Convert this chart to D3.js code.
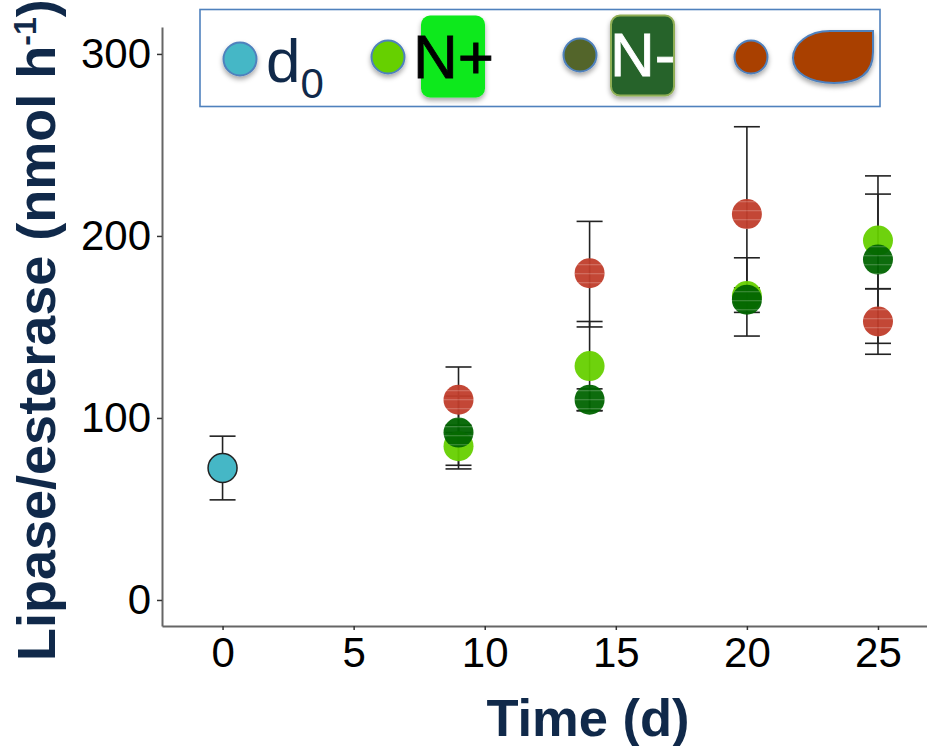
<!DOCTYPE html>
<html><head><meta charset="utf-8">
<script src="https://cdn.jsdelivr.net/npm/d3@7"></script>
<style>html,body{margin:0;padding:0;background:#fff}svg{display:block}text{font-family:"Liberation Sans",Arial,sans-serif}</style>
</head><body><svg id="c" width="927" height="746"></svg>
<script>
const days=[9,14,20,25];
const d0Point={day:0,mean:72.5,low:55,high:90};
const nPlusMean=[84.5,128.5,167,197.5];
const nPlusLow=[74,104,145,171];
const nPlusHigh=[96,153,188,223];
const nMinusMean=[92,110,165,187];
const nMinusLow=[72,104,158,141];
const nMinusHigh=[112,116,171.5,233];
const deficitMean=[110,179.5,212,153];
const deficitLow=[92,150,164,135];
const deficitHigh=[128,208,260,171];
const xTicks=[0,5,10,15,20,25];
const yTicks=[0,100,200,300];
const colors={d0:"#45b7c6",nPlus:"#66d000",nMinus:"#006400",def:"#c03d2b"};

const svg=d3.select("#c");
const x=d3.scaleLinear().domain([-2.31,26.87]).range([162,927]);
const y=d3.scaleLinear().domain([-14.3,314.8]).range([626,27]);
const defs=svg.append("defs");
const sh=defs.append("filter").attr("id","sh").attr("x","-30%").attr("y","-30%").attr("width","160%").attr("height","170%");
sh.append("feDropShadow").attr("dx",0).attr("dy",3).attr("stdDeviation",2.5).attr("flood-color","#000").attr("flood-opacity",.35);
function stripe(id,c){const p=defs.append("pattern").attr("id",id).attr("patternUnits","userSpaceOnUse").attr("width",8).attr("height",9);
 p.append("rect").attr("width",8).attr("height",9).attr("fill",c);
 p.append("rect").attr("y",3).attr("width",8).attr("height",1.3).attr("fill","#fff").attr("opacity",.2);}
stripe("sN",colors.nMinus);stripe("sD",colors.def);

const gx=svg.append("g").attr("transform","translate(0,626)").call(d3.axisBottom(x).tickValues(xTicks).tickSize(4).tickSizeOuter(0).tickPadding(7));
const gy=svg.append("g").attr("transform","translate(162,0)").call(d3.axisLeft(y).tickValues(yTicks).tickSize(5).tickSizeOuter(0).tickPadding(6));
[gx,gy].forEach(g=>{g.selectAll("text").attr("font-size",42).attr("fill","#000").style("font-family",'"Liberation Sans"');
 g.select(".domain").attr("stroke","#666").attr("stroke-width",2);g.selectAll(".tick line").attr("stroke","#333").attr("stroke-width",1.5);});

function series(mean,low,high,fill,op){
 const rows=days.map((d,i)=>({day:d,mean:mean[i],low:low[i],high:high[i]}));
 return {rows,fill,op};
}
const groups=[series(nPlusMean,nPlusLow,nPlusHigh,colors.nPlus,1),series(nMinusMean,nMinusLow,nMinusHigh,"url(#sN)",1),series(deficitMean,deficitLow,deficitHigh,"url(#sD)",1)];
const bars=svg.append("g");
function err(rows){
 const g=bars.selectAll(null).data(rows).enter().append("g").attr("stroke","#222").attr("stroke-width",1.6).attr("fill","none");
 g.append("line").attr("x1",d=>x(d.day)).attr("x2",d=>x(d.day)).attr("y1",d=>y(d.low)).attr("y2",d=>y(d.high));
 g.append("line").attr("x1",d=>x(d.day)-13).attr("x2",d=>x(d.day)+13).attr("y1",d=>y(d.low)).attr("y2",d=>y(d.low));
 g.append("line").attr("x1",d=>x(d.day)-13).attr("x2",d=>x(d.day)+13).attr("y1",d=>y(d.high)).attr("y2",d=>y(d.high));
}
groups.forEach(s=>err(s.rows));
err([d0Point]);
groups.forEach(s=>{
 svg.append("g").selectAll("circle").data(s.rows).enter().append("circle")
  .attr("cx",d=>x(d.day)).attr("cy",d=>y(d.mean)).attr("r",15).attr("fill",s.fill).attr("opacity",.95);
});
svg.append("circle").datum(d0Point).attr("cx",d=>x(d.day)).attr("cy",d=>y(d.mean)).attr("r",14.5)
 .attr("fill",colors.d0).attr("stroke","#222").attr("stroke-width",1.5);

svg.append("text").attr("x",588).attr("y",736).attr("text-anchor","middle").attr("font-size",52.5).attr("font-weight",700).attr("fill","#10294a").text("Time (d)");
const yl=svg.append("text").attr("transform","translate(55,661) rotate(-90)").attr("font-size",54).attr("font-weight",700).attr("fill","#10294a");
yl.append("tspan").text("Lipase/esterase (nmol h");
yl.append("tspan").attr("font-size",32).attr("dy",-19).text("-1");
yl.append("tspan").attr("dy",19).text(")");

// legend
const lg=svg.append("g");
lg.append("rect").attr("x",200).attr("y",9.5).attr("width",680).attr("height",97).attr("fill","#fff").attr("stroke","#4f81bd").attr("stroke-width",1.6);
const legendFill=["#45b7c6","#66d000","#53652a","#a93f00"];
const legendX=[240,388,580,751];
const legendY=[59,57,55,57];
lg.selectAll("circle").data(legendFill).enter().append("circle").attr("cx",(d,i)=>legendX[i]).attr("cy",(d,i)=>legendY[i]).attr("r",16.5)
 .attr("fill",d=>d).attr("stroke","#4f81bd").attr("stroke-width",2).attr("filter","url(#sh)");
lg.append("rect").attr("x",421).attr("y",15.5).attr("width",64).attr("height",82).attr("rx",9).attr("fill","#0ce91a").attr("filter","url(#sh)");
lg.append("rect").attr("x",611).attr("y",15.5).attr("width",63).attr("height",80).attr("rx",9).attr("fill","#26632a").attr("stroke","#8fae55").attr("stroke-width",2).attr("filter","url(#sh)");
lg.append("path").attr("d","M873,31H830C808,31 793,44 793,58C793,73 810,83 834,83C860,83 873,72 873,52Z").attr("fill","#a93f00").attr("stroke","#4f81bd").attr("stroke-width",2).attr("filter","url(#sh)");
const d=lg.append("text").attr("x",266).attr("y",82).attr("font-size",62).attr("fill","#10294a");
d.append("tspan").text("d");
d.append("tspan").attr("font-size",42).attr("dy",16).text("0");
lg.append("text").attr("x",413).attr("y",78).attr("font-size",62).attr("fill","#000").attr("stroke","#000").attr("stroke-width",.8).text("N+");
lg.append("text").attr("x",610).attr("y",76).attr("font-size",62).attr("fill","#fff").attr("stroke","#fff").attr("stroke-width",.8).text("N-");
</script></body></html>
